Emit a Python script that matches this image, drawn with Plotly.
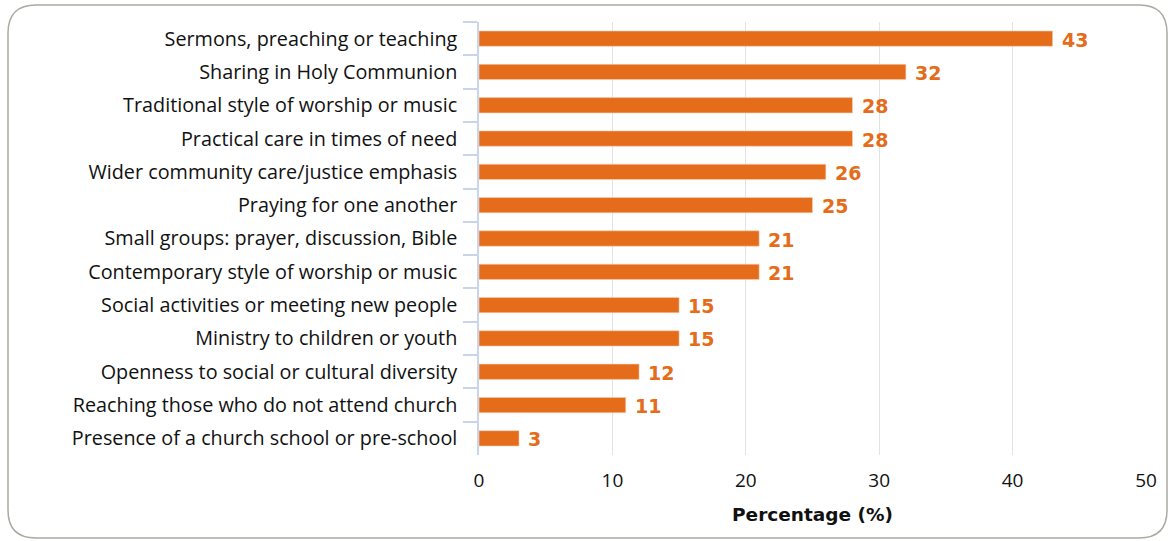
import plotly.graph_objects as go

categories = [
    "Sermons, preaching or teaching",
    "Sharing in Holy Communion",
    "Traditional style of worship or music",
    "Practical care in times of need",
    "Wider community care/justice emphasis",
    "Praying for one another",
    "Small groups: prayer, discussion, Bible",
    "Contemporary style of worship or music",
    "Social activities or meeting new people",
    "Ministry to children or youth",
    "Openness to social or cultural diversity",
    "Reaching those who do not attend church",
    "Presence of a church school or pre-school",
]
values = [43, 32, 28, 28, 26, 25, 21, 21, 15, 15, 12, 11, 3]
x_ticks = [0, 10, 20, 30, 40, 50]
x_title = "Percentage (%)"

W, H = 1170, 541
L, R, T, B = 479, 24, 22, 86
pw, ph = W - L - R, H - T - B
ORANGE = "#E46C1A"
FONT = "Open Sans, Noto Sans, DejaVu Sans"
BOLD = "DejaVu Sans"

def px(x):
    return (x - L) / pw

def py(y):
    return (H - B - y) / ph

fig = go.Figure(go.Bar(
    x=values, y=categories, orientation="h",
    marker=dict(color=ORANGE, line=dict(color="#F6D2B8", width=0.6)),
    width=0.46,
    cliponaxis=False,
))

annotations = [
    dict(x=v, y=c, xref="x", yref="y", text=str(v), showarrow=False,
         xanchor="left", yanchor="middle", xshift=7, yshift=-1,
         font=dict(family=BOLD, size=19, color=ORANGE, weight="bold"))
    for c, v in zip(categories, values)
]

bx0, bx1, by0, by1 = 8, 1167, 5, 538
rad = 28
def P(xp, yp):
    return f"{px(xp):.5f},{py(yp):.5f}"
path = (f"M {P(bx0+rad, by0)} L {P(bx1-rad, by0)} Q {P(bx1, by0)} {P(bx1, by0+rad)} "
        f"L {P(bx1, by1-rad)} Q {P(bx1, by1)} {P(bx1-rad, by1)} "
        f"L {P(bx0+rad, by1)} Q {P(bx0, by1)} {P(bx0, by1-rad)} "
        f"L {P(bx0, by0+rad)} Q {P(bx0, by0)} {P(bx0+rad, by0)} Z")

fig.update_layout(
    width=W, height=H,
    margin=dict(l=L, r=R, t=T, b=B),
    plot_bgcolor="white", paper_bgcolor="white",
    showlegend=False,
    annotations=annotations,
    shapes=[dict(type="path", xref="paper", yref="paper", path=path,
                 line=dict(color="#A9AAA0", width=1.5), layer="below")],
    xaxis=dict(
        range=[0, 50], tickvals=x_ticks, showgrid=True, gridcolor="#E3E3E3", gridwidth=1,
        zeroline=False, showline=False, ticks="",
        tickfont=dict(family=FONT, size=19, color="#111111"),
        ticklabelstandoff=12,
        title=dict(text=x_title, standoff=16,
                   font=dict(family=BOLD, size=18.5, color="#111111", weight="bold")),
    ),
    yaxis=dict(
        autorange="reversed", showgrid=False, showline=True, linecolor="#C9D5EA", linewidth=1.5,
        ticks="outside", tickson="boundaries", ticklen=14, tickcolor="#C9D5EA", tickwidth=1.5,
        tickfont=dict(family=FONT, size=19.8, color="#111111"),
        ticklabelstandoff=16,
    ),
)

fig.write_html("out.html", config={"displayModeBar": False},
               post_script="document.body.style.margin='0';document.body.style.overflow='hidden';")
